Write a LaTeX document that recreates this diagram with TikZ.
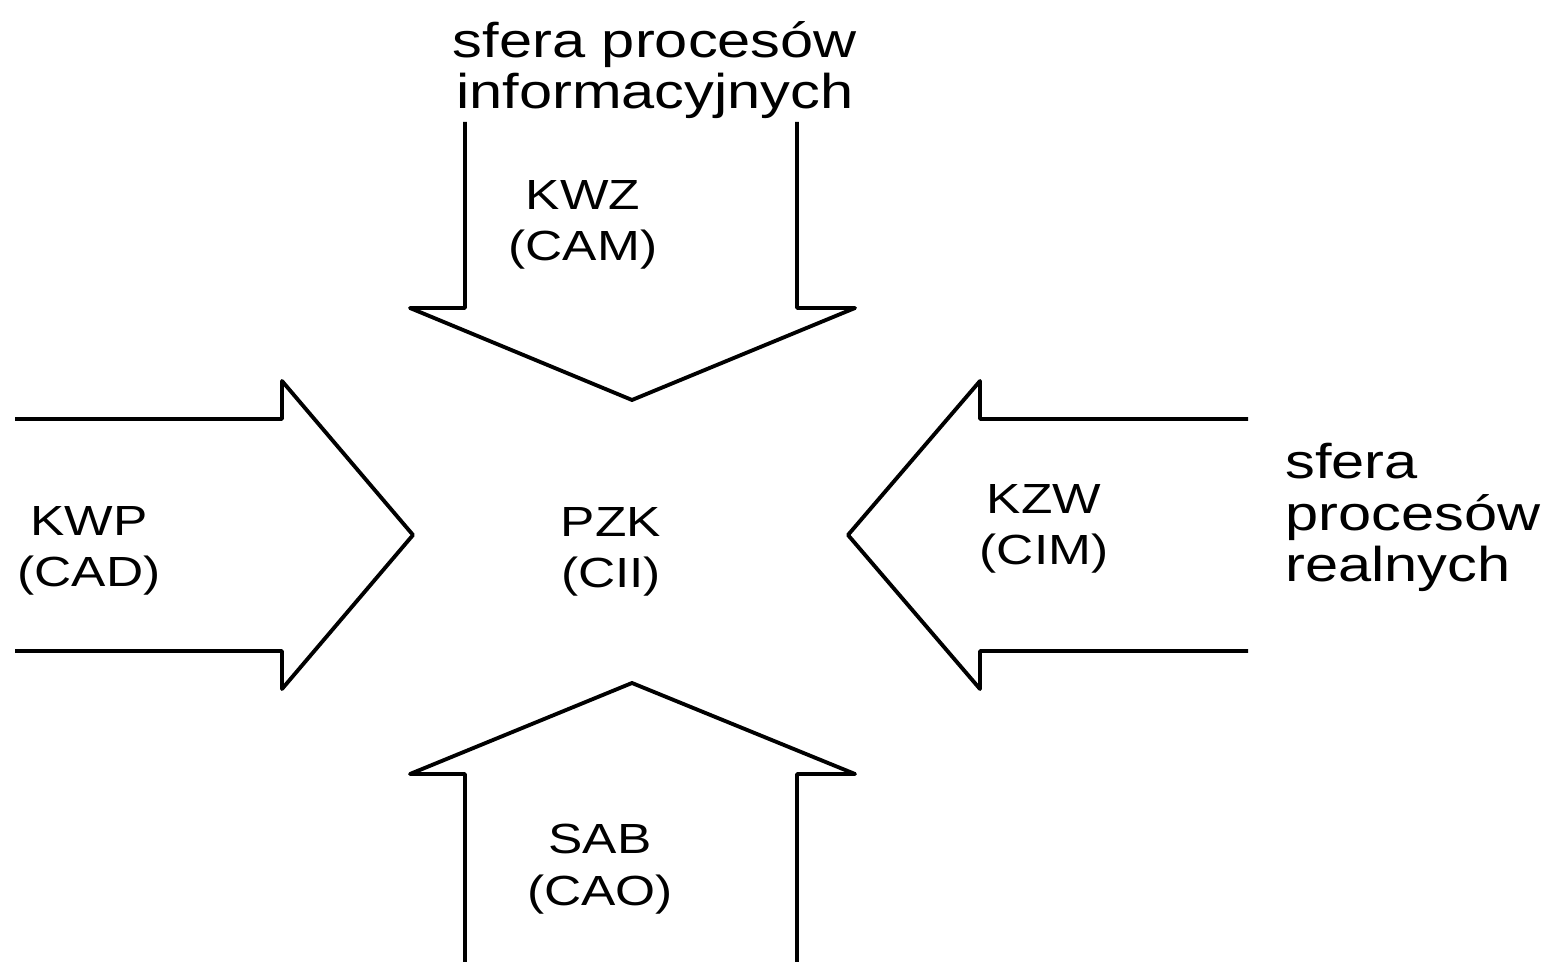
\documentclass[tikz,border=0pt]{standalone}
\usepackage{fontspec}
\setmainfont{Liberation Sans}
\usetikzlibrary{positioning}

\begin{document}
\begin{tikzpicture}[x=0.02cm,y=-0.02cm,
  arrowline/.style={line width=2.2pt,line join=round},
  boxtext/.style={align=center,inner sep=0pt,xscale=1.22,font=\fontsize{24}{29.3}\selectfont},
  spheretext/.style={inner sep=0pt,xscale=1.22,font=\fontsize{27.8}{29.5}\selectfont}]
  \useasboundingbox (0,0) rectangle (1556,962);
  % block arrows
  \draw[arrowline] (465,122) -- (465,308) -- (410,308) -- (632,400) -- (855,308) -- (797,308) -- (797,122);
  \draw[arrowline] (465,962) -- (465,774) -- (410,774) -- (632,683) -- (855,774) -- (797,774) -- (797,962);
  \draw[arrowline] (15,419) -- (282,419) -- (282,381) -- (413,535) -- (282,689) -- (282,651) -- (15,651);
  \draw[arrowline] (1248,419) -- (980,419) -- (980,381) -- (848,535) -- (980,689) -- (980,651) -- (1248,651);
  % labels (base = last line)
  \node[boxtext,anchor=base] (kwz) at (583,261) {KWZ\\(CAM)};
  \node[boxtext,anchor=base] (sab) at (600,905) {SAB\\(CAO)};
  \node[boxtext,anchor=base] (kwp) at (89,587) {KWP\\(CAD)};
  \node[boxtext,anchor=base] (pzk) at (611,588) {PZK\\(CII)};
  \node[boxtext,anchor=base] (kzw) at (1044,565) {KZW\\(CIM)};
  % spheres
  \node[spheretext,align=center,anchor=base] (info) at (655,109) {sfera procesów\\informacyjnych};
  \node[spheretext,align=left,anchor=base west] (real) at (1285,582) {sfera\\procesów\\realnych};
\end{tikzpicture}
\end{document}
